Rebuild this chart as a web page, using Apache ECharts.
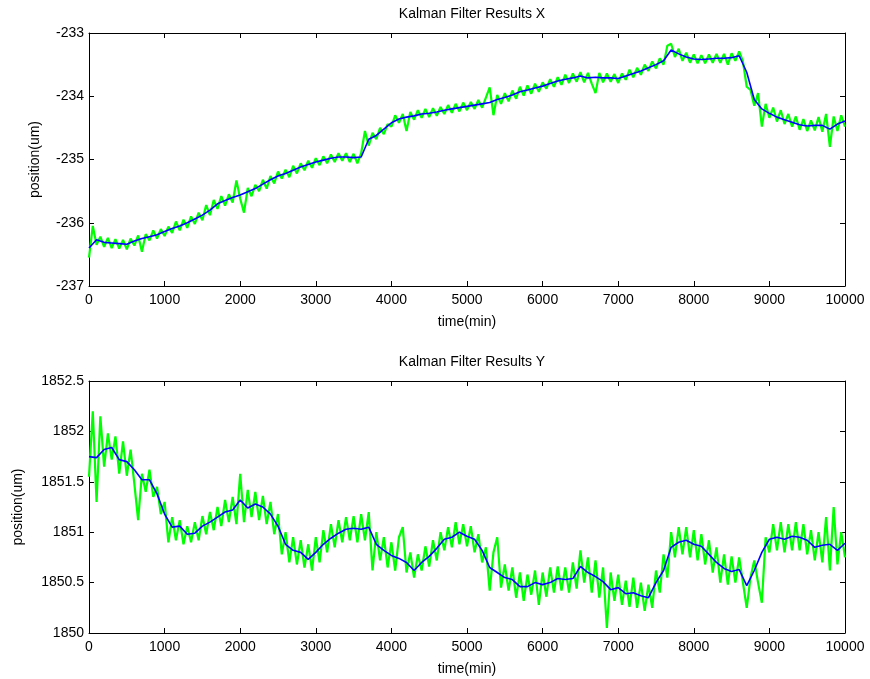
<!DOCTYPE html>
<html>
<head>
<meta charset="utf-8">
<script src="https://cdn.jsdelivr.net/npm/echarts@6/dist/echarts.min.js"></script>
<style>
  html, body { margin: 0; padding: 0; background: #fff; }
  #chart { width: 870px; height: 679px; }
</style>
</head>
<body>
<div id="chart"></div>
<script>
// measured position X (green, every 50 min)
const measX = [
  -236.55, -236.05, -236.35, -236.22, -236.38, -236.24, -236.40, -236.26, -236.41, -236.27,
  -236.42, -236.25, -236.36, -236.20, -236.46, -236.18, -236.28, -236.12, -236.25, -236.10,
  -236.21, -236.06, -236.16, -235.98, -236.12, -235.95, -236.08, -235.90, -236.02, -235.84,
  -235.96, -235.72, -235.88, -235.64, -235.78, -235.58, -235.73, -235.55, -235.68, -235.33,
  -235.62, -235.84, -235.45, -235.58, -235.40, -235.50, -235.32, -235.46, -235.26, -235.38,
  -235.19, -235.30, -235.16, -235.28, -235.10, -235.22, -235.06, -235.17, -235.02, -235.13,
  -234.98, -235.09, -234.95, -235.06, -234.92, -235.04, -234.90, -235.02, -234.90, -235.04,
  -234.91, -235.06, -234.90, -234.55, -234.78, -234.58, -234.68, -234.50, -234.60, -234.44,
  -234.48, -234.30, -234.42, -234.28, -234.55, -234.25, -234.37, -234.22, -234.34, -234.20,
  -234.33, -234.19, -234.31, -234.17, -234.28, -234.14, -234.26, -234.12, -234.24, -234.10,
  -234.22, -234.09, -234.20, -234.06, -234.18, -234.02, -233.86, -234.30, -233.98, -234.12,
  -233.95, -234.08, -233.91, -234.04, -233.85, -233.99, -233.83, -233.96, -233.80, -233.93,
  -233.78, -233.88, -233.73, -233.85, -233.70, -233.82, -233.66, -233.79, -233.64, -233.77,
  -233.62, -233.78, -233.63, -233.80, -233.95, -233.63, -233.78, -233.64, -233.77, -233.65,
  -233.79, -233.64, -233.74, -233.58, -233.70, -233.55, -233.66, -233.50, -233.60, -233.45,
  -233.56, -233.40, -233.50, -233.20, -233.17, -233.38, -233.25, -233.44, -233.31, -233.47,
  -233.34, -233.48, -233.35, -233.48, -233.34, -233.47, -233.33, -233.47, -233.33, -233.50,
  -233.32, -233.44, -233.29, -233.45, -233.85, -233.90, -234.15, -233.95, -234.48, -234.12,
  -234.34, -234.18, -234.40, -234.22, -234.44, -234.28, -234.48, -234.32, -234.53, -234.36,
  -234.55, -234.38, -234.54, -234.33, -234.56, -234.28, -234.80, -234.32, -234.55, -234.30,
  -234.48
];

// filtered position X (blue, every 100 min)
const filtX = [
  -236.40, -236.27, -236.31, -236.32, -236.33, -236.34, -236.29, -236.25, -236.22, -236.19,
  -236.14, -236.09, -236.05, -236.00, -235.94, -235.88, -235.80, -235.70, -235.65, -235.60,
  -235.56, -235.51, -235.46, -235.39, -235.32, -235.26, -235.22, -235.17, -235.12, -235.08,
  -235.04, -235.01, -234.98, -234.96, -234.96, -234.97, -234.96, -234.68, -234.62, -234.52,
  -234.42, -234.36, -234.33, -234.31, -234.28, -234.27, -234.25, -234.22, -234.20, -234.18,
  -234.16, -234.14, -234.12, -234.10, -234.05, -234.02, -233.98, -233.93, -233.90, -233.87,
  -233.84, -233.80, -233.76, -233.73, -233.71, -233.68, -233.71, -233.70, -233.71, -233.71,
  -233.72, -233.68, -233.64, -233.60, -233.55, -233.50, -233.44, -233.27, -233.33, -233.38,
  -233.41, -233.42, -233.41, -233.40, -233.40, -233.39, -233.36, -233.62, -234.05, -234.20,
  -234.27, -234.33, -234.37, -234.41, -234.45, -234.47, -234.46, -234.46, -234.52, -234.44,
  -234.39
];

// measured position Y (green, every 50 min)
const measY = [
  1851.55, 1852.20, 1851.30, 1852.15, 1851.65, 1851.98, 1851.72, 1851.95, 1851.58, 1851.90,
  1851.56, 1851.82, 1851.48, 1851.12, 1851.58, 1851.40, 1851.62, 1851.35, 1851.45, 1851.18,
  1851.30, 1850.90, 1851.15, 1850.92, 1851.12, 1850.88, 1851.06, 1850.90, 1851.10, 1850.92,
  1851.16, 1850.98, 1851.20, 1851.02, 1851.25, 1851.06, 1851.32, 1851.10, 1851.35, 1851.08,
  1851.58, 1851.10, 1851.42, 1851.15, 1851.40, 1851.12, 1851.36, 1851.08, 1851.30, 1850.98,
  1851.18, 1850.78, 1851.00, 1850.70, 1850.95, 1850.68, 1850.92, 1850.65, 1850.88, 1850.62,
  1850.95, 1850.70, 1851.02, 1850.80, 1851.08, 1850.85, 1851.12, 1850.90, 1851.15, 1850.92,
  1851.16, 1850.90, 1851.18, 1850.92, 1851.20, 1850.62, 1851.00, 1850.72, 1850.95, 1850.65,
  1850.90, 1850.62, 1850.95, 1851.05, 1850.60, 1850.80, 1850.55, 1850.78, 1850.62, 1850.86,
  1850.66, 1850.92, 1850.72, 1851.00, 1850.82, 1851.05, 1850.85, 1851.10, 1850.88, 1851.08,
  1850.86, 1851.06, 1850.80, 1850.98, 1850.70, 1850.85, 1850.42, 1850.80, 1850.95, 1850.45,
  1850.68, 1850.42, 1850.65, 1850.35, 1850.60, 1850.32, 1850.58, 1850.38, 1850.62, 1850.28,
  1850.60, 1850.36, 1850.65, 1850.40, 1850.66, 1850.42, 1850.65, 1850.40, 1850.70, 1850.44,
  1850.82, 1850.50, 1850.75, 1850.40, 1850.72, 1850.35, 1850.65, 1850.05, 1850.60, 1850.32,
  1850.58, 1850.28, 1850.52, 1850.26, 1850.55, 1850.25, 1850.50, 1850.22, 1850.48, 1850.25,
  1850.62, 1850.40, 1850.78, 1850.55, 1851.00, 1850.75, 1851.05, 1850.78, 1851.05, 1850.75,
  1851.02, 1850.72, 1850.98, 1850.68, 1850.92, 1850.60, 1850.85, 1850.50, 1850.78, 1850.48,
  1850.76, 1850.50, 1850.75, 1850.50, 1850.25, 1850.55, 1850.72, 1850.50, 1850.30, 1850.95,
  1850.80, 1851.08, 1850.82, 1851.10, 1850.80, 1851.08, 1850.82, 1851.10, 1850.82, 1851.08,
  1850.78, 1851.02, 1850.72, 1851.00, 1850.70, 1851.15, 1850.62, 1851.25, 1850.68, 1851.00,
  1850.75
];

// filtered position Y (blue, every 100 min)
const filtY = [
  1851.75, 1851.74, 1851.82, 1851.84, 1851.72, 1851.70, 1851.62, 1851.52, 1851.52, 1851.38,
  1851.18, 1851.05, 1851.06, 1850.98, 1850.99, 1851.06, 1851.10, 1851.15, 1851.20, 1851.22,
  1851.32, 1851.24, 1851.28, 1851.25, 1851.18, 1851.06, 1850.88, 1850.82, 1850.80, 1850.73,
  1850.80, 1850.88, 1850.94, 1850.99, 1851.03, 1851.04, 1851.03, 1851.05, 1850.88, 1850.82,
  1850.77, 1850.74, 1850.70, 1850.62, 1850.70, 1850.76, 1850.84, 1850.93, 1850.95, 1851.00,
  1850.96, 1850.93, 1850.82, 1850.65, 1850.60, 1850.55, 1850.53, 1850.46, 1850.46, 1850.50,
  1850.48, 1850.50, 1850.54, 1850.53, 1850.54, 1850.66, 1850.60, 1850.56, 1850.51, 1850.43,
  1850.45, 1850.39, 1850.40, 1850.37, 1850.35, 1850.50, 1850.62, 1850.85, 1850.90, 1850.92,
  1850.88, 1850.86, 1850.78, 1850.70, 1850.64, 1850.61, 1850.63, 1850.47, 1850.62, 1850.80,
  1850.93, 1850.95, 1850.93, 1850.96, 1850.95, 1850.92, 1850.85, 1850.87, 1850.88, 1850.82,
  1850.89
];

const titles = ['Kalman Filter Results X', 'Kalman Filter Results Y'];
const xTicks = [0, 1000, 10000];   // min, interval, max of time axis
const yRangeX = [-237, -233, 1];
const yRangeY = [1850, 1852.5, 0.5];

function pairs(step, vals) {
  return vals.map((v, i) => [i * step, v]);
}

const font = 'Liberation Sans, Arial, sans-serif';
const txt = { color: '#000', fontFamily: font, fontSize: 14 };

function xAx(gi, pos, showLabel) {
  return {
    type: 'value', gridIndex: gi, position: pos,
    min: xTicks[0], max: xTicks[2], interval: xTicks[1],
    name: showLabel ? 'time(min)' : '', nameLocation: 'middle', nameGap: 29,
    nameTextStyle: txt,
    axisLine: { show: true, onZero: false, lineStyle: { color: '#000', width: 1 } },
    axisTick: { show: true, inside: true, length: 5, lineStyle: { color: '#000' } },
    axisLabel: { show: showLabel, margin: 7, formatter: v => String(v), ...txt },
    splitLine: { show: false }
  };
}
function yAx(gi, pos, range, showLabel, gap) {
  return {
    type: 'value', gridIndex: gi, position: pos,
    min: range[0], max: range[1], interval: range[2],
    name: showLabel ? 'position(um)' : '', nameLocation: 'middle', nameGap: gap,
    nameTextStyle: txt,
    axisLine: { show: true, onZero: false, lineStyle: { color: '#000', width: 1 } },
    axisTick: { show: true, inside: true, length: 5, lineStyle: { color: '#000' } },
    axisLabel: { show: showLabel, margin: 5, formatter: v => String(v), ...txt },
    splitLine: { show: false }
  };
}

const chart = echarts.init(document.getElementById('chart'), null, { renderer: 'canvas' });
chart.setOption({
  animation: false,
  backgroundColor: '#fff',
  title: [
    { text: titles[0], left: 467, top: 2, textAlign: 'center', textStyle: { ...txt, fontWeight: 'normal' } },
    { text: titles[1], left: 467, top: 350, textAlign: 'center', textStyle: { ...txt, fontWeight: 'normal' } }
  ],
  grid: [
    { left: 89, right: 25, top: 33, height: 253, outerBoundsMode: 'none', containLabel: false },
    { left: 89, right: 25, top: 381, height: 252, outerBoundsMode: 'none', containLabel: false }
  ],
  xAxis: [xAx(0, 'bottom', true), xAx(0, 'top', false), xAx(1, 'bottom', true), xAx(1, 'top', false)],
  yAxis: [
    yAx(0, 'left', yRangeX, true, 47), yAx(0, 'right', yRangeX, false, 0),
    yAx(1, 'left', yRangeY, true, 64), yAx(1, 'right', yRangeY, false, 0)
  ],
  series: [
    { type: 'line', xAxisIndex: 0, yAxisIndex: 0, data: pairs(50, measX), symbol: 'none',
      lineStyle: { color: '#00ff00', width: 2.2 } },
    { type: 'line', xAxisIndex: 0, yAxisIndex: 0, data: pairs(100, filtX), symbol: 'none',
      lineStyle: { color: '#0000ff', width: 1.6 } },
    { type: 'line', xAxisIndex: 2, yAxisIndex: 2, data: pairs(50, measY), symbol: 'none',
      lineStyle: { color: '#00ff00', width: 2.2 } },
    { type: 'line', xAxisIndex: 2, yAxisIndex: 2, data: pairs(100, filtY), symbol: 'none',
      lineStyle: { color: '#0000ff', width: 1.6 } }
  ]
});
</script>
</body>
</html>
